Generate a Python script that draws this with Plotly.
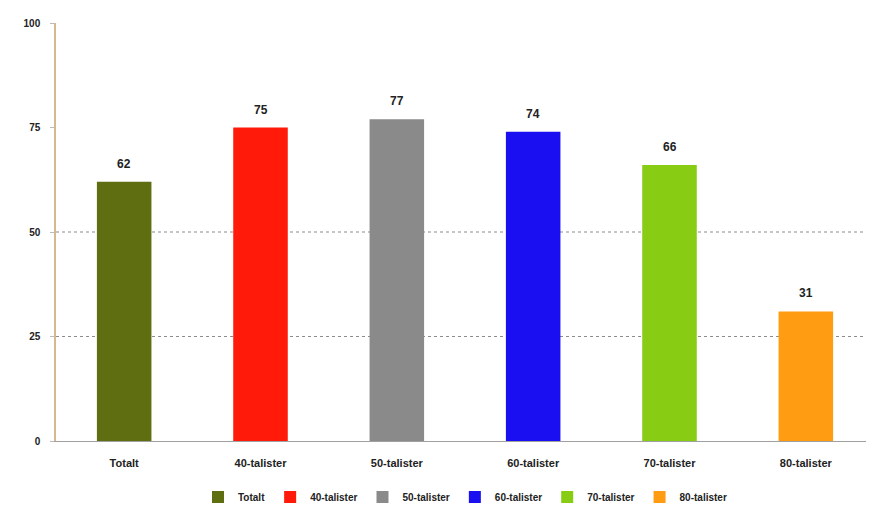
import plotly.graph_objects as go

categories = ["Totalt", "40-talister", "50-talister", "60-talister", "70-talister", "80-talister"]
values = [62, 75, 77, 74, 66, 31]
colors = ["#5e6e10", "#ff1a0a", "#8a8a8a", "#1a0ff0", "#88cc14", "#ff9c12"]
y_ticks = [0, 25, 50, 75, 100]

fig = go.Figure()
for cat, val, col in zip(categories, values, colors):
    fig.add_trace(go.Bar(
        x=[cat], y=[val], name=cat, marker=dict(color=col, line=dict(width=0)),
        width=0.4,
    ))
    fig.add_annotation(x=cat, y=val, text=str(val), showarrow=False, yanchor="bottom",
                       yshift=9, font=dict(family="Liberation Sans", size=12,
                                           color="#222222", weight="bold"))

for g in [25, 50]:
    fig.add_shape(type="line", xref="paper", yref="y", x0=0, x1=1, y0=g, y1=g,
                  line=dict(color="#8c8c8c", width=1.2, dash="dot"), layer="below")

fig.update_layout(
    width=866, height=507,
    margin=dict(l=48, r=0, t=15, b=74),
    paper_bgcolor="white", plot_bgcolor="white",
    barmode="overlay",
    font=dict(family="Liberation Sans", size=11, color="#222222", weight="bold"),
    showlegend=True,
    legend=dict(orientation="h", x=0.5, xanchor="center", y=-0.134, yanchor="middle",
                font=dict(size=10, weight="bold"), itemwidth=30, traceorder="normal"),
    xaxis=dict(range=[-0.5, 5.5], showgrid=False, showline=True, linecolor="#a0a0a0",
               linewidth=1, ticks="outside", ticklen=0, ticklabelstandoff=12,
               tickfont=dict(size=11, family="Liberation Sans", weight="bold")),
    yaxis=dict(range=[0, 100], tickvals=y_ticks, showgrid=False, showline=True,
               linecolor="#d8b888", linewidth=1.5, ticks="outside", tickcolor="#bbbbbb",
               ticklen=4, zeroline=False, ticklabelstandoff=8,
               tickfont=dict(size=10, family="Liberation Sans", weight="bold")),
)
fig.write_html("out.html")
